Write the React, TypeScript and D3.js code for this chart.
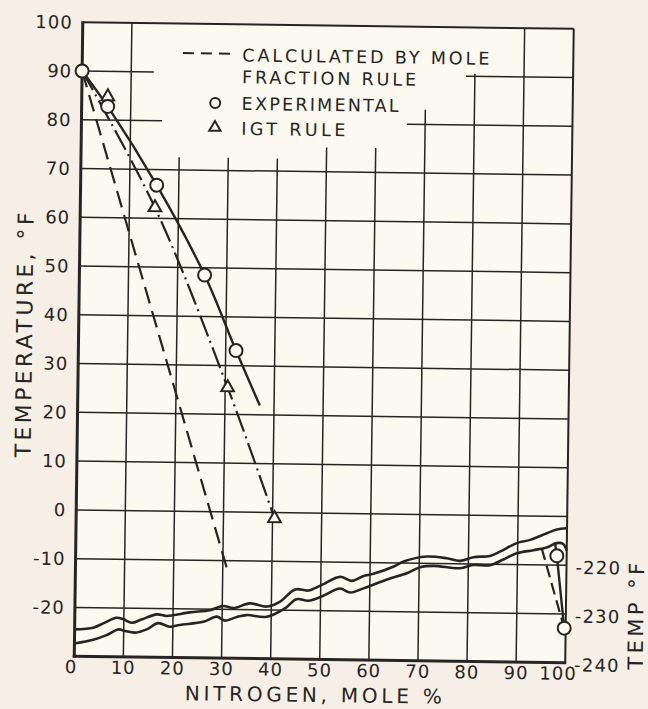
import { useRef, useEffect } from "react";
import * as d3 from "d3";

// axis ticks
const xTicks = [0, 10, 20, 30, 40, 50, 60, 70, 80, 90, 100];
const yTicks = [100, 90, 80, 70, 60, 50, 40, 30, 20, 10, 0, -10, -20];
const rightTicks = [-220, -230, -240];

// grid: full horizontal lines, partial ones [y, x1, x2], vertical ones [x, y1, y2]
const hGridFull = [-20, -10, 0, 10, 20, 30, 40, 50, 60, 70];
const hGridPart = [
  [90, 0, 14.6],
  [90, 78.2, 100],
  [80, 0, 16.4],
  [80, 66.3, 100],
];
const vGrid = [
  [10, -30, 100],
  [20, -30, 72.6],
  [30, -30, 72.6],
  [40, -30, 72.6],
  [50, -30, 75],
  [60, -30, 75],
  [70, -30, 83],
  [80, -30, 90.5],
  [90, -30, 100],
];

// experimental points (circles) and the curve drawn through them
const expPoints = [
  [0, 90],
  [5.3, 82.8],
  [15.5, 66.8],
  [25.5, 48.5],
  [32.1, 33.1],
];
const expCurve = [...expPoints, [37.1, 21.9]];

// IGT rule (triangles), dash-dot curve
const igtPoints = [
  [5.3, 84.8],
  [15.2, 62.2],
  [30.5, 25.5],
  [40.4, -1.2],
];
const igtCurve = [
  [0, 90],
  [15.2, 62.2],
  [30.5, 25.5],
  [40.4, -1.2],
];

// mole fraction rule, dashed
const moleCurve = [
  [0, 90],
  [31, -12.1],
];

// wavy break band at the bottom
const bandUpper = [
  [0, -24.5], [3.8, -24.1], [5.8, -23.2], [8.5, -22.0], [9.9, -22.3],
  [11.6, -23.0], [13.6, -22.3], [16.7, -21.2], [18.7, -21.5], [23.4, -20.7],
  [27.5, -20.2], [30.2, -19.3], [32.3, -19.7], [35.6, -18.7], [39.1, -19.3],
  [41.7, -18.3], [44.8, -15.7], [47.5, -15.9], [50.2, -14.7], [53.9, -13.0],
  [56.3, -13.8], [58.6, -12.8], [60.7, -12.3], [64.7, -10.8], [66.8, -9.7],
  [71.5, -8.6], [75.6, -8.9], [78.3, -9.4], [81.0, -8.6], [84.4, -8.3],
  [86.4, -7.4], [89.8, -5.6], [92.5, -4.9], [95.9, -3.5], [97.9, -2.7],
  [100, -2.4],
];
const bandLower = [
  [0, -27.4], [3.8, -26.6], [6.5, -25.6], [8.9, -24.4], [10.3, -24.7],
  [12.3, -25.0], [14.7, -24.3], [17.0, -23.0], [19.4, -23.7], [21.4, -23.3],
  [26.2, -22.6], [28.9, -21.5], [30.6, -22.3], [33.0, -21.5], [35.0, -21.1],
  [39.1, -21.4], [42.8, -19.6], [45.1, -17.7], [47.5, -18.0], [50.2, -17.1],
  [53.9, -15.4], [56.0, -16.2], [58.7, -15.3], [63.8, -13.3], [67.5, -12.1],
  [70.2, -10.8], [72.9, -10.5], [78.3, -10.9], [81.0, -10.2], [84.4, -10.2],
  [87.1, -9.0], [89.8, -7.7], [93.2, -7.0], [95.9, -6.4], [97.9, -5.5],
  [99.2, -5.6], [100, -7],
];

// pure nitrogen end, read on the right-hand scale
const rightExp = [
  [98.0, -218.1],
  [99.7, -232.9],
];
const rightSolid = [
  [97.6, -215.4],
  [98.0, -218.1],
  [99.7, -232.9],
];
const rightDashed = [
  [94.9, -216.6],
  [99.7, -232.9],
];

const legendRows = [
  ["CALCULATED BY MOLE", 62.5, 247],
  ["FRACTION RULE", 84.5, 174],
  ["EXPERIMENTAL", 111, 157],
  ["IGT RULE", 136, 104],
];

const INK = "#272523";
const PAPER = "#fbf9f0";
const FONT = "'DejaVu Sans', sans-serif";

const App = () => {
  const svgRef = useRef(null);

  useEffect(() => {
    const svg = d3.select(svgRef.current);
    svg.selectAll("*").remove();

    const width = 648;
    const height = 709;
    svg.attr("width", width).attr("height", height);

    svg.append("rect").attr("width", width).attr("height", height).attr("fill", "#f6efe6");

    // the scan is tilted a little
    const g = svg.append("g").attr("transform", "rotate(0.77, 324, 342.5)");

    const x = d3.scaleLinear().domain([0, 100]).range([78.5, 569.5]);
    const y = d3.scaleLinear().domain([-30, 100]).range([659.5, 25.5]);
    const yR = d3.scaleLinear().domain([-240, -110]).range([659.5, 25.5]);

    g.append("rect")
      .attr("x", x(0))
      .attr("y", y(100))
      .attr("width", x(100) - x(0))
      .attr("height", y(-30) - y(100))
      .attr("fill", PAPER);

    // grid
    g.selectAll(".hfull")
      .data(hGridFull)
      .join("line")
      .attr("x1", x(0))
      .attr("x2", x(100))
      .attr("y1", (d) => y(d))
      .attr("y2", (d) => y(d))
      .attr("stroke", INK)
      .attr("stroke-width", 1.5);

    g.selectAll(".hpart")
      .data(hGridPart)
      .join("line")
      .attr("x1", (d) => x(d[1]))
      .attr("x2", (d) => x(d[2]))
      .attr("y1", (d) => y(d[0]))
      .attr("y2", (d) => y(d[0]))
      .attr("stroke", INK)
      .attr("stroke-width", 1.5);

    g.selectAll(".vgrid")
      .data(vGrid)
      .join("line")
      .attr("x1", (d) => x(d[0]))
      .attr("x2", (d) => x(d[0]))
      .attr("y1", (d) => y(d[1]))
      .attr("y2", (d) => y(d[2]))
      .attr("stroke", INK)
      .attr("stroke-width", 1.5);

    // frame
    g.append("line").attr("x1", x(0)).attr("x2", x(100)).attr("y1", y(100)).attr("y2", y(100))
      .attr("stroke", INK).attr("stroke-width", 2);
    g.append("line").attr("x1", x(100)).attr("x2", x(100)).attr("y1", y(100)).attr("y2", y(-30))
      .attr("stroke", INK).attr("stroke-width", 2);
    g.append("line").attr("x1", x(0)).attr("x2", x(0)).attr("y1", y(100) - 1).attr("y2", y(-30) + 1.5)
      .attr("stroke", INK).attr("stroke-width", 3);
    g.append("line").attr("x1", x(0) - 1.5).attr("x2", x(100) + 1).attr("y1", y(-30)).attr("y2", y(-30))
      .attr("stroke", INK).attr("stroke-width", 3);

    // tick labels
    g.selectAll(".ylab")
      .data(yTicks)
      .join("text")
      .attr("x", x(0) - 10)
      .attr("y", (d) => y(d))
      .attr("dy", "0.36em")
      .attr("text-anchor", "end")
      .attr("font-family", FONT)
      .attr("font-size", 18)
      .attr("letter-spacing", 1)
      .attr("fill", INK)
      .text((d) => d);

    g.selectAll(".xlab")
      .data(xTicks)
      .join("text")
      .attr("x", (d) => x(d) - (d === 0 ? 3 : d === 100 ? 7 : 0))
      .attr("y", y(-30) + 10.5)
      .attr("dy", "0.36em")
      .attr("text-anchor", "middle")
      .attr("font-family", FONT)
      .attr("font-size", 18)
      .attr("letter-spacing", 1)
      .attr("fill", INK)
      .text((d) => d);

    g.selectAll(".rlab")
      .data(rightTicks)
      .join("text")
      .attr("x", x(100) + 9)
      .attr("y", (d) => yR(d) + 2)
      .attr("dy", "0.36em")
      .attr("font-family", FONT)
      .attr("font-size", 18)
      .attr("letter-spacing", 1.2)
      .attr("fill", INK)
      .text((d) => d);

    // axis titles
    g.append("text")
      .attr("x", 318)
      .attr("y", 702)
      .attr("text-anchor", "middle")
      .attr("font-family", FONT)
      .attr("font-size", 20)
      .attr("textLength", 257)
      .attr("lengthAdjust", "spacing")
      .attr("fill", INK)
      .text("NITROGEN, MOLE %");

    g.append("text")
      .attr("transform", "translate(32, 339) rotate(-90)")
      .attr("text-anchor", "middle")
      .attr("font-family", FONT)
      .attr("font-size", 22)
      .attr("textLength", 245)
      .attr("lengthAdjust", "spacing")
      .attr("fill", INK)
      .text("TEMPERATURE, °F");

    g.append("text")
      .attr("transform", "translate(647, 612) rotate(-90)")
      .attr("text-anchor", "middle")
      .attr("font-family", FONT)
      .attr("font-size", 21)
      .attr("textLength", 107)
      .attr("lengthAdjust", "spacing")
      .attr("fill", INK)
      .text("TEMP °F");

    // lines
    const line = d3.line().x((d) => x(d[0])).y((d) => y(d[1])).curve(d3.curveCatmullRom);
    const lineR = d3.line().x((d) => x(d[0])).y((d) => yR(d[1]));

    [bandUpper, bandLower].forEach((band) => {
      g.append("path")
        .attr("d", line(band))
        .attr("fill", "none")
        .attr("stroke", INK)
        .attr("stroke-width", 2.6)
        .attr("stroke-linejoin", "round");
    });

    g.append("path")
      .attr("d", line(moleCurve))
      .attr("fill", "none")
      .attr("stroke", INK)
      .attr("stroke-width", 2.2)
      .attr("stroke-dasharray", "17,8");

    g.append("path")
      .attr("d", line(igtCurve))
      .attr("fill", "none")
      .attr("stroke", INK)
      .attr("stroke-width", 2.2)
      .attr("stroke-dasharray", "22,5,2,5");

    g.append("path")
      .attr("d", line(expCurve))
      .attr("fill", "none")
      .attr("stroke", INK)
      .attr("stroke-width", 2.4);

    g.append("path")
      .attr("d", lineR(rightDashed))
      .attr("fill", "none")
      .attr("stroke", INK)
      .attr("stroke-width", 2.2)
      .attr("stroke-dasharray", "12,6");

    g.append("path")
      .attr("d", lineR(rightSolid))
      .attr("fill", "none")
      .attr("stroke", INK)
      .attr("stroke-width", 2.4);

    // markers
    const tri = d3.symbol().type(d3.symbolTriangle).size(70);

    g.selectAll(".tri")
      .data(igtPoints)
      .join("path")
      .attr("d", tri)
      .attr("transform", (d) => `translate(${x(d[0])}, ${y(d[1])})`)
      .attr("fill", PAPER)
      .attr("stroke", INK)
      .attr("stroke-width", 2);

    g.selectAll(".circ")
      .data(expPoints)
      .join("circle")
      .attr("cx", (d) => x(d[0]))
      .attr("cy", (d) => y(d[1]))
      .attr("r", 6.5)
      .attr("fill", PAPER)
      .attr("stroke", INK)
      .attr("stroke-width", 2);

    g.selectAll(".rcirc")
      .data(rightExp)
      .join("circle")
      .attr("cx", (d) => x(d[0]))
      .attr("cy", (d) => yR(d[1]))
      .attr("r", 6.5)
      .attr("fill", PAPER)
      .attr("stroke", INK)
      .attr("stroke-width", 2);

    // legend
    const legend = g.append("g");
    legend.append("line")
      .attr("x1", 179).attr("x2", 226).attr("y1", 55).attr("y2", 55)
      .attr("stroke", INK).attr("stroke-width", 2).attr("stroke-dasharray", "11,7");
    legend.append("circle").attr("cx", 212).attr("cy", 104.5).attr("r", 5)
      .attr("fill", "none").attr("stroke", INK).attr("stroke-width", 2);
    legend.append("path").attr("d", d3.symbol().type(d3.symbolTriangle).size(55))
      .attr("transform", "translate(212, 129)")
      .attr("fill", "none").attr("stroke", INK).attr("stroke-width", 2);

    legend.selectAll("text")
      .data(legendRows)
      .join("text")
      .attr("x", 238.5)
      .attr("y", (d) => d[1])
      .attr("font-family", FONT)
      .attr("font-size", 17.5)
      .attr("textLength", (d) => d[2])
      .attr("lengthAdjust", "spacing")
      .attr("fill", INK)
      .text((d) => d[0]);
  }, []);

  return <svg ref={svgRef} style={{ position: "absolute", left: 0, top: 0, display: "block" }}></svg>;
};

export default App;
